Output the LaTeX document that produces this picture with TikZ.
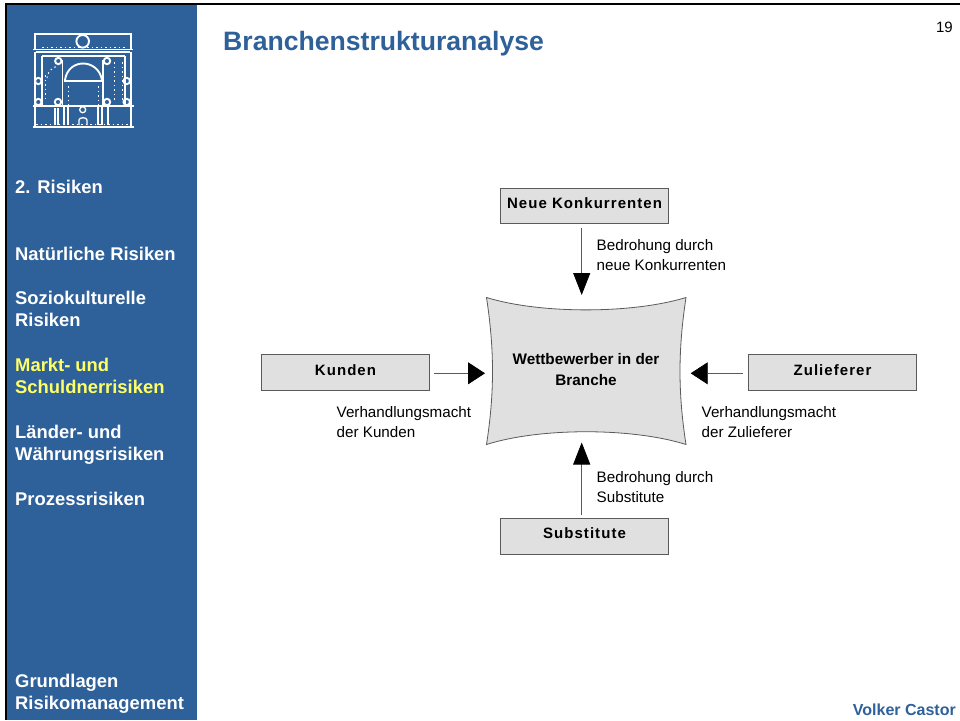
\documentclass[tikz,border=0pt]{standalone}
\usepackage{fontspec}
\setmainfont{Liberation Sans}
\usetikzlibrary{arrows.meta}
\definecolor{sidebar}{RGB}{46,96,153}
\definecolor{boxfill}{RGB}{224,224,224}
\definecolor{boxline}{RGB}{90,90,90}
\definecolor{sel}{RGB}{255,255,102}
\tikzset{x=1pt,y=-1pt,
 navtext/.style={font=\bfseries\fontsize{18.4}{22.5}\selectfont,text=white,anchor=north west,inner sep=0pt,align=left},
 boxnode/.style={draw=boxline,fill=boxfill,line width=0.8pt,minimum width=168.5pt,minimum height=35.5pt,inner sep=0pt,text height=11pt,text depth=3pt,font=\bfseries\fontsize{15}{17}\selectfont\addfontfeature{LetterSpace=7},text=black},
 lbl/.style={font=\fontsize{15.2}{20}\selectfont,anchor=north west,inner sep=0pt,align=left,text=black},
 conn/.style={draw=boxline,line width=0.8pt},
 tipv/.style={-{Triangle[length=22pt,width=17pt,fill=black,color=black]}},
 tiph/.style={-{Triangle[length=17pt,width=22pt,fill=black,color=black]}},
 logo/.style={draw=white,line width=1.3pt},
 logob/.style={draw=white,line width=1.9pt},
 logod/.style={draw=white,line width=1pt,dash pattern=on 1.5pt off 3pt}}
\begin{document}
\begin{tikzpicture}
\useasboundingbox (0,0) rectangle (960,720);
\fill[white] (0,0) rectangle (960,720);
\fill[sidebar] (6,4) rectangle (197,720);
\fill[black] (5,3) rectangle (960,5);
\fill[black] (5,3) rectangle (7,720);
% logo
\draw[logo] (35,50) -- (35,34) -- (131,34) -- (131,50);
\draw[logob] (82.7,41.3) circle (6.3);
\draw[logob] (33,49.5) -- (133,49.5);
\draw[logo] (36,52) -- (130,52);
\draw[logo] (35,52) -- (35,127) (131,52) -- (131,127);
\draw[logo] (42,56) -- (125,56) (42,56) -- (42,106) (125,56) -- (125,106);
\draw[logob] (62.5,60) -- (62.5,106) (103,60) -- (103,106);
\draw[logob] (64,81) -- (102,81) (65,80) .. controls (68,58) and (98,58) .. (102,80);
\draw[logob] (33,106.3) -- (134,106.3);
\draw[logo] (55,108) -- (55,125) (58,108) -- (58,125) (64,106) -- (64,125) (68,106) -- (68,125) (98,106) -- (98,125) (102,106) -- (102,125) (108,106) -- (108,125);
\draw[logob] (33,127.3) -- (134,127.3);
\draw[logod] (36,124) -- (130,124) (42,47) -- (125,47) (68,86) -- (68,106) (98,86) -- (98,106) (45,75) -- (45,100) (122,62) -- (122,100) (114,62) -- (114,100);
\draw[logod] (47,78) .. controls (48,70) and (54,67) .. (58,66);
\draw[logo] (82.7,109.7) circle (3);
\draw[logo] (79,125) -- (79,120) .. controls (79,117) and (87,117) .. (87,120) -- (87,125);
\foreach \cx/\cy in {58.3/61,107/61,38.3/81,126.7/81,38.3/102,58/102,107/102,126.7/102}{\draw[logob] (\cx,\cy) circle (3.2);}
% sidebar text
\node[navtext] (n1) at (15,179.8) {2. Risiken};
\node[navtext] (n2) at (15,246.8) {Natürliche Risiken};
\node[navtext] (n3) at (15,290.8) {Soziokulturelle\\Risiken};
\node[navtext,text=sel] (n4) at (15,357.8) {Markt- und\\Schuldnerrisiken};
\node[navtext] (n5) at (15,424.8) {Länder- und\\Währungsrisiken};
\node[navtext] (n6) at (15,491.8) {Prozessrisiken};
\node[navtext] (n7) at (15,673.5) {Grundlagen\\Risikomanagement};
% header
\node[font=\bfseries\fontsize{26.6}{30}\selectfont,text=sidebar,anchor=west,inner sep=0pt] (title) at (223,44) {Branchenstrukturanalyse};
\node[font=\fontsize{15}{18}\selectfont,anchor=east,inner sep=0pt] (pg) at (953,27) {19};
\node[font=\bfseries\fontsize{16}{18}\selectfont,text=sidebar,anchor=east,inner sep=0pt] (auth) at (956,710) {Volker Castor};
% centre
\path[draw=boxline,fill=boxfill,line width=0.8pt] (486.5,297.5)
  .. controls (540,314) and (632,314) .. (686,297.5)
  .. controls (678,350) and (678,393) .. (686,444.5)
  .. controls (632,427.5) and (540,427.5) .. (486.5,444.5)
  .. controls (494.5,393) and (494.5,350) .. (486.5,297.5) -- cycle;
\node[font=\bfseries\fontsize{15.3}{20.5}\selectfont,align=center,inner sep=0pt] (wb) at (586,369.5) {Wettbewerber in der\\Branche};
\coordinate (wbN) at (581.7,295);
\coordinate (wbS) at (581.7,442.5);
\coordinate (wbW) at (485,373.3);
\coordinate (wbE) at (690.7,373.3);
\node[boxnode] (nk) at (584.5,205.8) {\raisebox{1.5pt}{Neue Konkurrenten}};
\node[boxnode] (ku) at (345.5,372.3) {\raisebox{1pt}{Kunden}};
\node[boxnode] (zu) at (832.5,372.3) {\raisebox{1pt}{Zulieferer}};
\node[boxnode] (su) at (584.5,536.3) {\raisebox{1.5pt}{Substitute}};
\coordinate (nkS) at (581.7,228);
\coordinate (suN) at (581.7,515);
\coordinate (kuE) at (434,373.3);
\coordinate (zuW) at (743,373.3);
\draw[conn,tipv] (nkS) -- (wbN);
\draw[conn,tipv] (suN) -- (wbS);
\draw[conn,tiph] (kuE) -- (wbW);
\draw[conn,tiph] (zuW) -- (wbE);
\node[lbl] (l1) at (596.5,239) {Bedrohung durch\\neue Konkurrenten};
\node[lbl] (l2) at (596.5,471) {Bedrohung durch\\Substitute};
\node[lbl] (l3) at (336.5,406) {Verhandlungsmacht\\der Kunden};
\node[lbl] (l4) at (701.5,406) {Verhandlungsmacht\\der Zulieferer};
\end{tikzpicture}
\end{document}
